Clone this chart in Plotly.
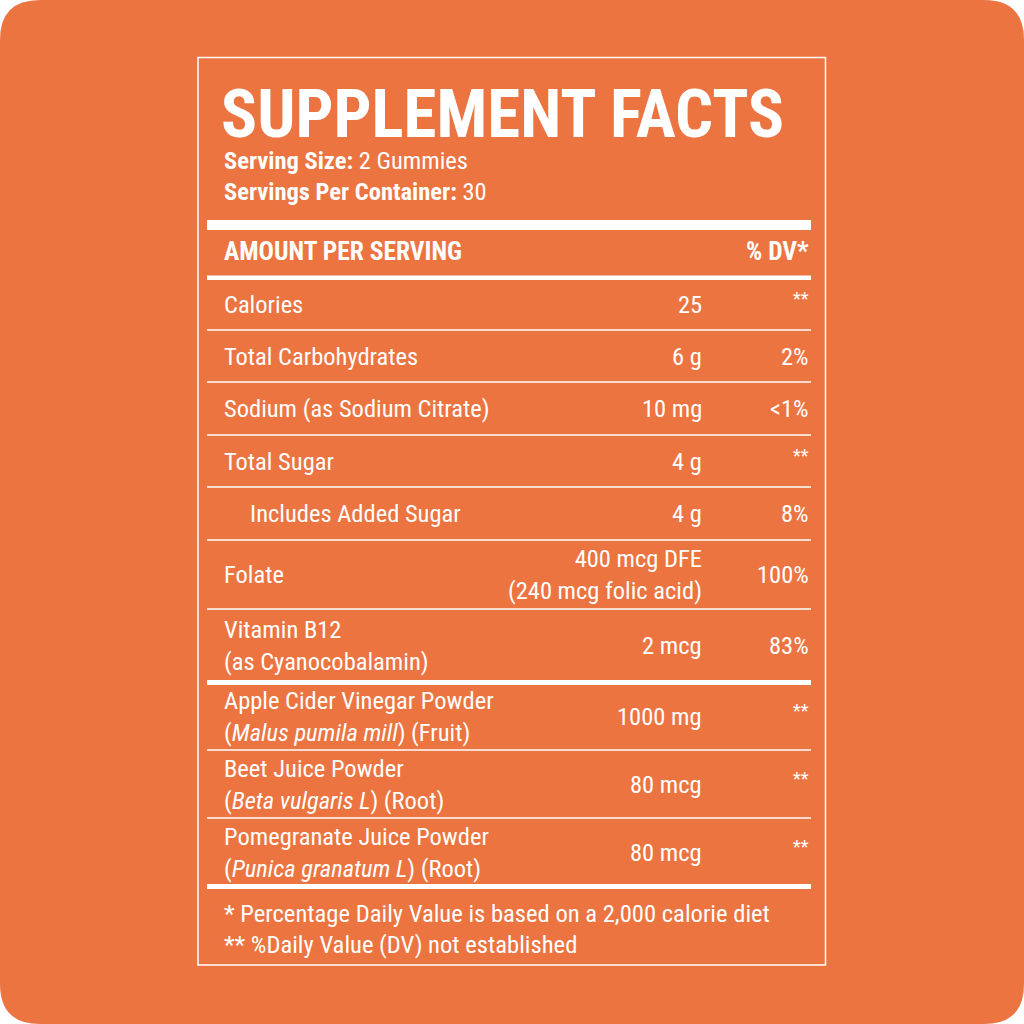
import plotly.graph_objects as go

# ---------------- data ----------------
title = "SUPPLEMENT FACTS"
serving_size = "2 Gummies"
servings_per_container = "30"
col_header_left = "AMOUNT PER SERVING"
col_header_right = "% DV*"
nutrients = [
    "Calories",
    "Total Carbohydrates",
    "Sodium (as Sodium Citrate)",
    "Total Sugar",
    "Includes Added Sugar",
    "Folate",
    "Vitamin B12<br>(as Cyanocobalamin)",
    "Apple Cider Vinegar Powder<br>(<i>Malus pumila mill</i>) (Fruit)",
    "Beet Juice Powder<br>(<i>Beta vulgaris L</i>) (Root)",
    "Pomegranate Juice Powder<br>(<i>Punica granatum L</i>) (Root)",
]
amounts = ["25", "6 g", "10 mg", "4 g", "4 g",
           "400 mcg DFE<br>(240 mcg folic acid)", "2 mcg",
           "1000 mg", "80 mcg", "80 mcg"]
daily_values = ["**", "2%", "<1%", "**", "8%", "100%", "83%", "**", "**", "**"]
footnotes = ["* Percentage Daily Value is based on a 2,000 calorie diet",
             "** %Daily Value (DV) not established"]

# ---------------- layout / style ----------------
ORANGE = "#EC7441"
WHITE = "#FFFFFF"
FONT = "Liberation Sans Narrow, Roboto Condensed, Roboto, sans-serif"
BODY = 24.5
X_LEFT, X_AMT, X_DV = 222, 704, 811
LINE_X0, LINE_X1 = 207, 811
row_heights = [52, 52, 53, 52, 53, 69, 73.5, 67.5, 68, 68.5]
thick_after = {6, 9}
indent = {4: 26}
rows_top = 278

fig = go.Figure()
fig.add_trace(go.Scatter(x=[0, 1024], y=[0, 1024], mode="markers",
                         marker=dict(opacity=0), hoverinfo="skip", showlegend=False))

shapes = []
# rounded orange background
r = 40
shapes.append(dict(type="path", xref="x", yref="y",
                   path=f"M {r},0 H {1024-r} Q 1024,0 1024,{r} V {1024-r} Q 1024,1024 {1024-r},1024 "
                        f"H {r} Q 0,1024 0,{1024-r} V {r} Q 0,0 {r},0 Z",
                   fillcolor=ORANGE, line=dict(width=0), layer="below"))
# outer box
shapes.append(dict(type="rect", xref="x", yref="y", x0=198, x1=825.5, y0=57.5, y1=965,
                   line=dict(color=WHITE, width=1.5), fillcolor="rgba(0,0,0,0)"))
# header bars
shapes.append(dict(type="rect", xref="x", yref="y", x0=LINE_X0, x1=LINE_X1, y0=220, y1=230,
                   fillcolor=WHITE, line=dict(width=0)))
shapes.append(dict(type="rect", xref="x", yref="y", x0=LINE_X0, x1=LINE_X1, y0=275.5, y1=280,
                   fillcolor=WHITE, line=dict(width=0)))

annotations = []


def txt(x, y, text, anchor="left", size=BODY, **kw):
    annotations.append(dict(x=x, y=y, xref="x", yref="y", text=text, showarrow=False,
                            xanchor=anchor, yanchor="middle", align=anchor,
                            font=dict(family=FONT, size=size, color=WHITE), **kw))


# title block
txt(X_LEFT - 3, 114, f"<b>{title}</b>", size=67)
txt(X_LEFT, 160, f"<b>Serving Size:</b> {serving_size}")
txt(X_LEFT, 191, f"<b>Servings Per Container:</b> {servings_per_container}")
txt(X_LEFT, 251, f"<b>{col_header_left}</b>", size=25.5)
txt(X_DV, 251, f"<b>{col_header_right}</b>", anchor="right", size=25.5)

# rows
y = rows_top
for i, (name, amt, dv) in enumerate(zip(nutrients, amounts, daily_values)):
    h = row_heights[i]
    yc = y + h / 2
    txt(X_LEFT + indent.get(i, 0), yc, name)
    txt(X_AMT, yc, amt, anchor="right")
    if dv == "**":
        txt(X_DV, yc - 6, dv, anchor="right", size=18)
    else:
        txt(X_DV, yc, dv, anchor="right")
    y += h
    if i in thick_after:
        shapes.append(dict(type="rect", xref="x", yref="y", x0=LINE_X0, x1=LINE_X1,
                           y0=y - 2.5, y1=y + 2.5, fillcolor=WHITE, line=dict(width=0)))
    else:
        shapes.append(dict(type="line", xref="x", yref="y", x0=LINE_X0, x1=LINE_X1,
                           y0=y, y1=y, line=dict(color=WHITE, width=1.5)))

# footnotes
for k, f in enumerate(footnotes):
    txt(X_LEFT, 913 + 31 * k, f, size=24.6)

fig.update_layout(
    width=1024, height=1024, margin=dict(l=0, r=0, t=0, b=0),
    paper_bgcolor=WHITE, plot_bgcolor=WHITE,
    xaxis=dict(range=[0, 1024], visible=False, fixedrange=True),
    yaxis=dict(range=[1024, 0], visible=False, fixedrange=True),
    shapes=shapes, annotations=annotations, showlegend=False,
)
fig.write_html("out.html", config={"displayModeBar": False},
               post_script="document.body.style.margin='0';document.body.style.padding='0';")
